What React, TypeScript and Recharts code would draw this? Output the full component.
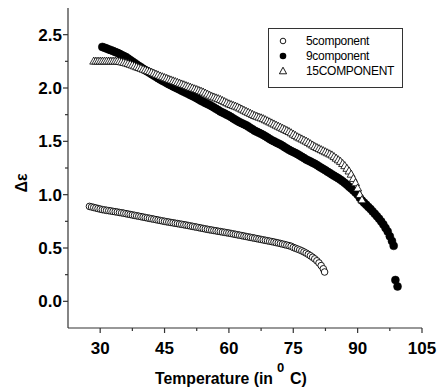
import React from 'react';
import { ScatterChart, Scatter, XAxis, YAxis } from 'recharts';

// ---------- data ----------
const t5 = [27.5,28,28.5,29,29.5,30,30.5,31,31.5,32,32.5,33,33.5,34,34.5,35,35.5,36,36.5,37,37.5,38,38.5,39,39.5,40,40.5,41,41.5,42,42.5,43,43.5,44,44.5,45,45.5,46,46.5,47,47.5,48,48.5,49,49.5,50,50.5,51,51.5,52,52.5,53,53.5,54,54.5,55,55.5,56,56.5,57,57.5,58,58.5,59,59.5,60,60.5,61,61.5,62,62.5,63,63.5,64,64.5,65,65.5,66,66.5,67,67.5,68,68.5,69,69.5,70,70.5,71,71.5,72,72.5,73,73.5,74,74.5,75,75.5,76,76.5,77,77.5,78,78.5,79,79.5,80,80.5,81,81.5,82,82.3];
const v5 = [0.89,0.885,0.88,0.875,0.87,0.865,0.86,0.857,0.853,0.85,0.847,0.843,0.84,0.837,0.833,0.83,0.826,0.822,0.818,0.814,0.81,0.806,0.802,0.798,0.794,0.79,0.786,0.782,0.778,0.774,0.77,0.766,0.762,0.758,0.754,0.75,0.746,0.743,0.739,0.736,0.732,0.729,0.725,0.722,0.718,0.715,0.711,0.707,0.703,0.699,0.695,0.691,0.687,0.683,0.679,0.675,0.671,0.668,0.664,0.661,0.657,0.654,0.65,0.647,0.643,0.64,0.636,0.632,0.628,0.624,0.62,0.616,0.612,0.608,0.604,0.6,0.596,0.592,0.588,0.584,0.58,0.576,0.572,0.568,0.564,0.56,0.556,0.551,0.547,0.542,0.537,0.532,0.527,0.522,0.516,0.505,0.498,0.49,0.482,0.473,0.463,0.452,0.44,0.427,0.413,0.398,0.38,0.36,0.335,0.305,0.275];

const t9 = [30.5,31,31.5,32,32.5,33,33.5,34,34.5,35,35.5,36,36.5,37,37.5,38,38.5,39,39.5,40,40.5,41,41.5,42,42.5,43,43.5,44,44.5,45,45.5,46,46.5,47,47.5,48,48.5,49,49.5,50,50.5,51,51.5,52,52.5,53,53.5,54,54.5,55,55.5,56,56.5,57,57.5,58,58.5,59,59.5,60,60.5,61,61.5,62,62.5,63,63.5,64,64.5,65,65.5,66,66.5,67,67.5,68,68.5,69,69.5,70,70.5,71,71.5,72,72.5,73,73.5,74,74.5,75,75.5,76,76.5,77,77.5,78,78.5,79,79.5,80,80.5,81,81.5,82,82.5,83,83.5,84,84.5,85,85.5,86,86.5,87,87.5,88,88.5,89,89.5,90,90.5,91,91.5,92,92.5,93,93.5,94,94.5,95,95.5,96,96.5,97,97.5,98,98.4,98.8,99.3];
const v9 = [2.385,2.378,2.37,2.362,2.355,2.347,2.338,2.33,2.32,2.31,2.3,2.29,2.276,2.262,2.248,2.235,2.221,2.207,2.194,2.18,2.167,2.155,2.142,2.13,2.117,2.105,2.092,2.08,2.069,2.058,2.046,2.035,2.025,2.015,2.005,1.995,1.985,1.975,1.965,1.955,1.945,1.935,1.925,1.915,1.904,1.893,1.881,1.87,1.86,1.85,1.84,1.83,1.818,1.805,1.793,1.78,1.77,1.76,1.75,1.74,1.728,1.715,1.703,1.69,1.68,1.67,1.66,1.65,1.638,1.625,1.613,1.6,1.59,1.58,1.57,1.56,1.548,1.535,1.523,1.51,1.5,1.49,1.48,1.47,1.458,1.445,1.433,1.42,1.41,1.4,1.39,1.38,1.368,1.355,1.343,1.33,1.32,1.31,1.3,1.29,1.278,1.265,1.253,1.24,1.228,1.215,1.203,1.19,1.178,1.165,1.153,1.14,1.125,1.11,1.093,1.075,1.058,1.04,1.02,1.0,0.97,0.945,0.925,0.905,0.885,0.865,0.843,0.82,0.798,0.775,0.748,0.72,0.688,0.655,0.61,0.565,0.52,0.2,0.14];

const t15 = [28.5,29,29.5,30,30.5,31,31.5,32,32.5,33,33.5,34,34.5,35,35.5,36,36.5,37,37.5,38,38.5,39,39.5,40,40.5,41,41.5,42,42.5,43,43.5,44,44.5,45,45.5,46,46.5,47,47.5,48,48.5,49,49.5,50,50.5,51,51.5,52,52.5,53,53.5,54,54.5,55,55.5,56,56.5,57,57.5,58,58.5,59,59.5,60,60.5,61,61.5,62,62.5,63,63.5,64,64.5,65,65.5,66,66.5,67,67.5,68,68.5,69,69.5,70,70.5,71,71.5,72,72.5,73,73.5,74,74.5,75,75.5,76,76.5,77,77.5,78,78.5,79,79.5,80,80.5,81,81.5,82,82.5,83,83.5,84,84.5,85,85.5,86,86.5,87,87.5,88,88.5,89,89.5,90,90.5,91];
const v15 = [2.25,2.25,2.25,2.25,2.25,2.25,2.25,2.25,2.25,2.25,2.25,2.25,2.247,2.243,2.238,2.233,2.227,2.22,2.213,2.205,2.197,2.19,2.183,2.175,2.168,2.16,2.153,2.145,2.137,2.128,2.12,2.11,2.103,2.095,2.088,2.08,2.073,2.065,2.058,2.05,2.043,2.035,2.028,2.02,2.013,2.005,1.998,1.99,1.983,1.975,1.968,1.96,1.95,1.94,1.93,1.92,1.913,1.905,1.898,1.89,1.88,1.87,1.86,1.85,1.843,1.835,1.828,1.82,1.81,1.8,1.79,1.78,1.77,1.76,1.75,1.74,1.733,1.725,1.718,1.71,1.7,1.69,1.68,1.67,1.66,1.65,1.64,1.63,1.62,1.61,1.6,1.59,1.578,1.565,1.553,1.54,1.53,1.52,1.51,1.5,1.488,1.475,1.463,1.45,1.44,1.43,1.42,1.41,1.4,1.39,1.38,1.37,1.355,1.34,1.325,1.31,1.29,1.27,1.245,1.22,1.19,1.15,1.11,1.06,1.0,0.95];

const seriesNames = ['5component', '9component', '15COMPONENT'];
const xTicks = [30, 37.5, 45, 52.5, 60, 67.5, 75, 82.5, 90, 97.5, 105];
const xMajor = [30, 45, 60, 75, 90, 105];
const yTicks = [0, 0.25, 0.5, 0.75, 1, 1.25, 1.5, 1.75, 2, 2.25, 2.5];
const yMajor = [0, 0.5, 1, 1.5, 2, 2.5];
const xDomain = [22.5, 105];
const yDomain = [-0.25, 2.75];
const xTitle = 'Temperature (in';
const xTitleSup = '0';
const xTitleEnd = 'C)';
const yTitle = 'Δε';

// ---------- styling ----------
const FONT = "'Liberation Sans', Arial, sans-serif";
const AXIS = '#333';

const data5 = t5.map((t, i) => ({ t, v: v5[i] }));
const data9 = t9.map((t, i) => ({ t, v: v9[i] }));
const data15 = t15.map((t, i) => ({ t, v: v15[i] }));

const OpenCircle = (p: any) => (
  <circle cx={p.cx} cy={p.cy} r={3.3} fill="#fff" stroke="#000" strokeWidth={0.9} />
);
const FilledCircle = (p: any) => (
  <circle cx={p.cx} cy={p.cy} r={4} fill="#000" stroke="#000" strokeWidth={0.5} />
);
const OpenTriangle = (p: any) => (
  <path
    d={`M${p.cx},${p.cy - 4.3} L${p.cx + 4},${p.cy + 2.8} L${p.cx - 4},${p.cy + 2.8} Z`}
    fill="#fff"
    stroke="#000"
    strokeWidth={0.8}
  />
);

const XTick = (p: any) => {
  const { x, y, payload } = p;
  const v = payload.value;
  const major = xMajor.includes(v);
  const y0 = y - 10;
  return (
    <g>
      <line x1={x} x2={x} y1={y0} y2={y0 + (major ? 5 : 3)} stroke={AXIS} strokeWidth={1.2} />
      {major && (
        <text x={x} y={y0 + 26} textAnchor="middle" fontFamily={FONT} fontWeight="bold" fontSize={17} fill="#000">
          {v}
        </text>
      )}
    </g>
  );
};

const YTick = (p: any) => {
  const { x, y, payload } = p;
  const v = payload.value;
  const major = yMajor.includes(v);
  const x0 = x + 6;
  return (
    <g>
      <line x1={x0 - (major ? 5 : 3)} x2={x0} y1={y} y2={y} stroke={AXIS} strokeWidth={1.2} />
      {major && (
        <text x={x} y={y + 6} textAnchor="end" fontFamily={FONT} fontWeight="bold" fontSize={17} fill="#000">
          {v.toFixed(1)}
        </text>
      )}
    </g>
  );
};

const TopTick = (p: any) => {
  const { x, y, payload } = p;
  const major = xMajor.includes(payload.value);
  return <line x1={x} x2={x} y1={y} y2={y + (major ? 5 : 3)} stroke={AXIS} strokeWidth={1.2} />;
};

const RightTick = (p: any) => {
  const { x, y, payload } = p;
  const major = yMajor.includes(payload.value);
  return <line x1={x - (major ? 5 : 3)} x2={x} y1={y} y2={y} stroke={AXIS} strokeWidth={1.2} />;
};

const XTitle = (p: any) => {
  const vb = p.viewBox || { x: 68, y: 328 };
  const bx = vb.x + 87;
  const by = vb.y + 56;
  return (
    <g fontFamily={FONT} fontWeight="bold" fill="#000">
      <text x={bx} y={by} fontSize={16} textLength={118} lengthAdjust="spacingAndGlyphs">
        {xTitle}
      </text>
      <text x={bx + 122} y={by - 12} fontSize={13}>
        {xTitleSup}
      </text>
      <text x={bx + 135} y={by} fontSize={16}>
        {xTitleEnd}
      </text>
    </g>
  );
};

const YTitle = (p: any) => {
  const vb = p.viewBox || { x: 8, y: 8 };
  const cx = vb.x + 19;
  const cy = vb.y + 175;
  return (
    <text
      x={cx}
      y={cy}
      transform={`rotate(-90, ${cx}, ${cy})`}
      textAnchor="middle"
      fontFamily={FONT}
      fontWeight="bold"
      fontSize={16}
      fill="#000"
    >
      {yTitle}
    </text>
  );
};

const LegendSymbol = ({ i }: { i: number }) => (
  <svg width={12} height={12} style={{ display: 'block' }}>
    {i === 0 && <circle cx={6} cy={6} r={2.8} fill="#fff" stroke="#000" strokeWidth={0.9} />}
    {i === 1 && <circle cx={6} cy={6} r={3.3} fill="#000" />}
    {i === 2 && <path d="M6,2.2 L9.6,8.8 L2.4,8.8 Z" fill="#fff" stroke="#000" strokeWidth={0.9} />}
  </svg>
);

export default function App() {
  return (
    <div style={{ position: 'absolute', left: 0, top: 0, width: 438, height: 392, background: '#fff' }}>
      <ScatterChart width={438} height={392} margin={{ top: 8, right: 16, bottom: 14, left: 8 }}>
        <XAxis
          xAxisId={0}
          type="number"
          dataKey="t"
          domain={xDomain}
          ticks={xTicks}
          interval={0}
          allowDataOverflow
          height={50}
          tickSize={0}
          tickMargin={10}
          tickLine={false}
          axisLine={{ stroke: AXIS, strokeWidth: 1.2 }}
          tick={<XTick />}
          label={{ content: <XTitle /> }}
        />
        <XAxis
          xAxisId="top"
          orientation="top"
          type="number"
          domain={xDomain}
          ticks={xTicks}
          interval={0}
          allowDataOverflow
          height={0}
          mirror
          tickSize={0}
          tickMargin={0}
          tickLine={false}
          axisLine={{ stroke: AXIS, strokeWidth: 1.2 }}
          tick={<TopTick />}
        />
        <YAxis
          yAxisId={0}
          type="number"
          dataKey="v"
          domain={yDomain}
          ticks={yTicks}
          interval={0}
          allowDataOverflow
          width={60}
          tickSize={0}
          tickMargin={6}
          tickLine={false}
          axisLine={{ stroke: AXIS, strokeWidth: 1.2 }}
          tick={<YTick />}
          label={{ content: <YTitle /> }}
        />
        <YAxis
          yAxisId="right"
          orientation="right"
          type="number"
          domain={yDomain}
          ticks={yTicks}
          interval={0}
          allowDataOverflow
          width={0}
          mirror
          tickSize={0}
          tickMargin={0}
          tickLine={false}
          axisLine={{ stroke: AXIS, strokeWidth: 1.2 }}
          tick={<RightTick />}
        />
        <Scatter name={seriesNames[0]} data={data5} xAxisId={0} yAxisId={0} shape={OpenCircle} isAnimationActive={false} />
        <Scatter name={seriesNames[1]} data={data9} xAxisId={0} yAxisId={0} shape={FilledCircle} isAnimationActive={false} />
        <Scatter name={seriesNames[2]} data={data15} xAxisId={0} yAxisId={0} shape={OpenTriangle} isAnimationActive={false} />
      </ScatterChart>
      <div
        style={{
          position: 'absolute',
          left: 268,
          top: 28,
          width: 133,
          height: 58,
          border: `1px solid ${AXIS}`,
          background: '#fff',
          fontFamily: FONT,
          fontSize: 12,
          color: '#000',
        }}
      >
        {seriesNames.map((n, i) => (
          <div
            key={n}
            style={{ position: 'absolute', left: 8, top: 4 + i * 15.3, height: 15, display: 'flex', alignItems: 'center' }}
          >
            <LegendSymbol i={i} />
            <span style={{ marginLeft: 17, letterSpacing: -0.3, whiteSpace: 'nowrap' }}>{n}</span>
          </div>
        ))}
      </div>
    </div>
  );
}
